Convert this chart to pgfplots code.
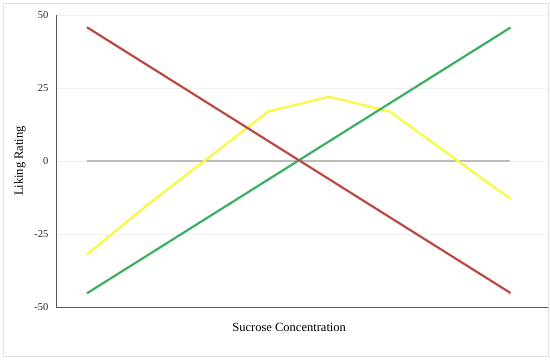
\documentclass[border=0pt]{standalone}
\usepackage{fontspec}
\setmainfont{Liberation Serif}
\usepackage{pgfplots}
\pgfplotsset{compat=1.18}
\definecolor{cred}{HTML}{B94A47}
\definecolor{cgreen}{HTML}{3DAF62}
\definecolor{cyellow}{HTML}{FAFA3C}
\definecolor{cgray}{HTML}{BDBDBD}
\definecolor{axgray}{HTML}{595959}
\begin{document}
\begin{tikzpicture}
\useasboundingbox (-56pt,-54pt) rectangle (494pt,307pt);
\draw[black!12, line width=0.8pt] (-53pt,-49pt) rectangle (492pt,304pt);
\begin{axis}[
  at={(0pt,0pt)}, anchor=south west,
  scale only axis, width=492pt, height=292pt,
  xmin=-0.512, xmax=7.62, ymin=-50, ymax=50,
  axis x line*=bottom, axis y line*=left,
  axis line style={axgray, line width=0.8pt, -},
  xtick=\empty, ytick={-50,-25,0,25,50},
  major tick length=0pt,
  ymajorgrids, grid style={black!6, line width=0.6pt},
  /pgf/number format/assume math mode=true,
  yticklabel style={font=\fontsize{10.5}{12}\selectfont, text=black!85, xshift=-4pt},
  xlabel={Sucrose Concentration},
  ylabel={Liking Rating},
  label style={font=\fontsize{12.5}{14}\selectfont},
  xlabel style={at={(axis description cs:0.474,0)}, anchor=center, yshift=-20pt},
  ylabel style={at={(axis description cs:-0.0732,0.5)}, anchor=center},
  every axis plot/.append style={line width=2.2pt, line join=round, mark=none},
  clip=false,
]
\addplot[cgray] coordinates {(0,0) (1,0) (2,0) (3,0) (4,0) (5,0) (6,0) (7,0)};
\addplot[cyellow] coordinates {(0,-32) (1,-15) (2,1) (3,17) (4,22) (5,17) (6,2) (7,-13)};
\addplot[cgreen] coordinates {(0,-45.3) (1,-32.3) (2,-19.3) (3,-6.3) (4,6.7) (5,19.7) (6,32.7) (7,45.7)};
\addplot[cred] coordinates {(0,45.8) (1,32.8) (2,19.8) (3,6.8) (4,-6.2) (5,-19.2) (6,-32.2) (7,-45.2)};
\end{axis}
\end{tikzpicture}
\end{document}
